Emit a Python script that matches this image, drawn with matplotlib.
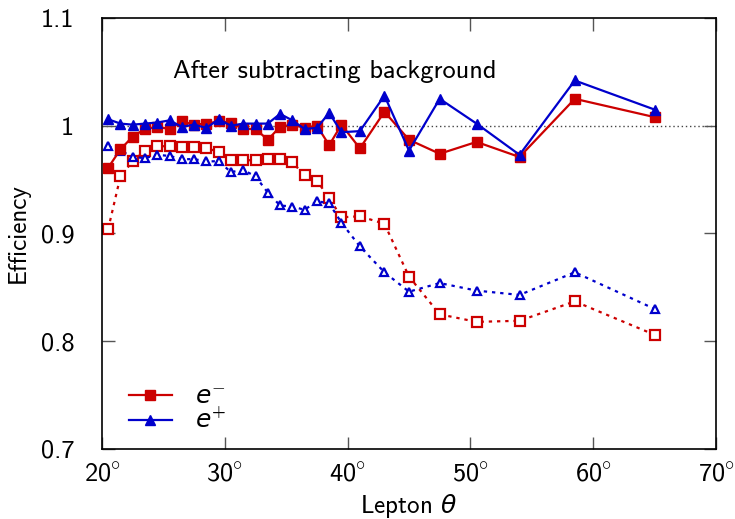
import matplotlib
matplotlib.use("Agg")
from matplotlib import pyplot as plt

# bin centres (degrees)
theta = [20.5, 21.5, 22.5, 23.5, 24.5, 25.5, 26.5, 27.5, 28.5, 29.5,
         30.5, 31.5, 32.5, 33.5, 34.5, 35.5, 36.5, 37.5, 38.5, 39.5,
         41.0, 43.0, 45.0, 47.5, 50.5, 54.0, 58.5, 65.0]

# after background subtraction (solid)
eff_em_sub = [0.961, 0.978, 0.990, 0.997, 0.999, 0.997, 1.004, 1.001, 1.002, 1.004,
              1.003, 0.997, 0.997, 0.987, 0.999, 1.001, 0.998, 1.000, 0.982, 1.001,
              0.979, 1.013, 0.987, 0.974, 0.985, 0.971, 1.025, 1.008]
eff_ep_sub = [1.006, 1.002, 1.001, 1.002, 1.003, 1.005, 0.999, 1.001, 0.998, 1.006,
              1.000, 1.002, 1.002, 1.002, 1.011, 1.005, 0.997, 0.998, 1.012, 0.994,
              0.995, 1.028, 0.977, 1.025, 1.002, 0.973, 1.042, 1.015]

# before subtraction (dotted, open markers)
eff_em_raw = [0.904, 0.953, 0.967, 0.977, 0.981, 0.981, 0.980, 0.980, 0.979, 0.976,
              0.968, 0.968, 0.968, 0.969, 0.969, 0.966, 0.954, 0.949, 0.933, 0.915,
              0.916, 0.909, 0.860, 0.825, 0.818, 0.819, 0.837, 0.806]
eff_ep_raw = [0.981, 0.977, 0.971, 0.970, 0.973, 0.972, 0.969, 0.969, 0.967, 0.967,
              0.957, 0.959, 0.953, 0.938, 0.926, 0.925, 0.922, 0.930, 0.928, 0.910,
              0.888, 0.864, 0.846, 0.854, 0.847, 0.843, 0.864, 0.830]

xticks = [20, 30, 40, 50, 60, 70]
yticks = [0.7, 0.8, 0.9, 1.0, 1.1]
ytick_labels = ["0.7", "0.8", "0.9", "1", "1.1"]

RED = "#cc0000"
BLUE = "#0000cc"

plt.rcParams['font.family'] = ['cmss10', 'DejaVu Sans']
plt.rcParams['mathtext.fontset'] = 'custom'
plt.rcParams['mathtext.rm'] = 'cmss10'
plt.rcParams['mathtext.it'] = 'DejaVu Sans:italic'
plt.rcParams['axes.unicode_minus'] = False

fig = plt.figure(figsize=(7.35, 5.19), dpi=100)
ax = fig.add_axes([102 / 735, 1 - 449 / 519, 614 / 735, 431 / 519])

ax.axhline(1.0, color="#444444", lw=1, ls=(0, (1, 2)), zorder=1)

dotted = (0, (1.5, 2.2))
ax.plot(theta, eff_em_raw, color=RED, ls=dotted, lw=1.6, marker="s", ms=6.5,
        mfc="white", mec=RED, mew=1.6, zorder=2)
ax.plot(theta, eff_ep_raw, color=BLUE, ls=dotted, lw=1.6, marker="^", ms=6,
        mfc="white", mec=BLUE, mew=1.6, zorder=2)
ax.plot(theta, eff_em_sub, color=RED, lw=1.6, marker="s", ms=7.5, label=r"$e^{-}$", zorder=3)
ax.plot(theta, eff_ep_sub, color=BLUE, lw=1.6, marker="^", ms=7.5, label=r"$e^{+}$", zorder=4)

ax.text(25.75, 1.05, "After subtracting background", fontsize=19, va="center", ha="left")

ax.set_xlim(20, 70)
ax.set_ylim(0.7, 1.1)
ax.set_xticks(xticks)
ax.set_xticklabels([f"${t}^{{\\circ}}$" for t in xticks])
ax.set_yticks(yticks)
ax.set_yticklabels(ytick_labels)
ax.tick_params(direction="in", length=9, width=1, color="#555555", labelsize=19,
               top=True, right=True)
ax.tick_params(axis="x", pad=9)
ax.tick_params(axis="y", pad=20)
for sp in ax.spines.values():
    sp.set_linewidth(1.2)

ax.set_xlabel(r"Lepton $\theta$", fontsize=18, labelpad=4)
ax.set_ylabel("Efficiency", fontsize=18, labelpad=8)

ax.legend(loc="lower left", bbox_to_anchor=(0.028, 0.012), frameon=False, fontsize=18,
          handlelength=1.7, labelspacing=0.0, handletextpad=0.95, borderaxespad=0)

fig.savefig("out.png", dpi=100)
